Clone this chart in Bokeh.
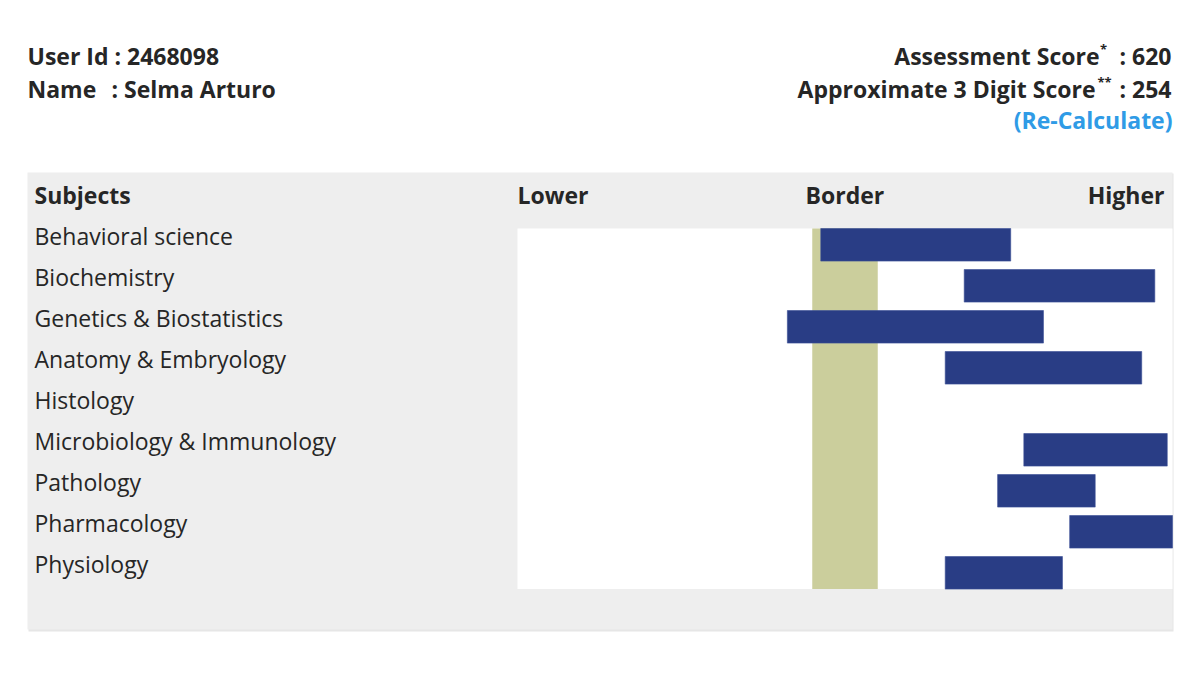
from bokeh.plotting import figure
from bokeh.models import Range1d, ColumnDataSource
from bokeh.core.properties import value
from bokeh.embed import file_html
from bokeh.resources import INLINE
import numpy as np

# ---- data ----
subjects = ["Behavioral science", "Biochemistry", "Genetics & Biostatistics",
            "Anatomy & Embryology", "Histology", "Microbiology & Immunology",
            "Pathology", "Pharmacology", "Physiology"]
bar_start = [46.3, 68.2, 41.2, 65.3, np.nan, 77.3, 73.3, 84.3, 65.3]
bar_end = [75.3, 97.3, 80.3, 95.3, np.nan, 99.2, 88.2, 100.0, 83.2]
border_low, border_high = 45.0, 55.0
scale_min, scale_max = 0.0, 100.0
column_headers = ["Subjects", "Lower", "Border", "Higher"]
user_id = "2468098"
user_name = "Selma Arturo"
assessment_score = 620
digit_score = 254

# ---- geometry helpers (pixel -> data) ----
W, H = 1200, 676
PX_L, PX_R = 517, 1172          # pixel span of the 0..100 scale
PPU = (PX_R - PX_L) / (scale_max - scale_min)
ROW_TOP, ROW_PITCH, BAR_H = 228, 41, 32.6
DY = -10  # text baseline correction

def X(px):
    return (px - PX_L) / PPU

def Y(py):
    return (py - ROW_TOP) / ROW_PITCH

p = figure(width=W, height=H, output_backend="svg", toolbar_location=None,
           x_axis_type=None, y_axis_type=None, min_border=0,
           x_range=Range1d(X(0), X(W)), y_range=Range1d(Y(H), Y(0)))
p.grid.visible = False
p.outline_line_color = None
p.background_fill_color = "white"
p.border_fill_color = "white"

FONT = value("Open Sans")
DARK = "#262626"
FS = "23px"

# gray panel (with faint shadow)
p.quad(left=[X(28)], right=[X(1173)], top=[Y(173)], bottom=[Y(631)],
       fill_color="#e6e6e6", line_color=None)
p.quad(left=[X(27)], right=[X(1172)], top=[Y(172)], bottom=[Y(629)],
       fill_color="#eeeeee", line_color=None)

n = len(subjects)
plot_bottom = (n - 1) + BAR_H / ROW_PITCH
# white plotting area
p.quad(left=[scale_min], right=[scale_max], top=[0], bottom=[plot_bottom],
       fill_color="white", line_color=None)
# border band
p.quad(left=[border_low], right=[border_high], top=[0], bottom=[plot_bottom],
       fill_color="#cbce9c", line_color=None)

# bars
rows = np.arange(n)
src = ColumnDataSource(dict(left=bar_start, right=bar_end, top=rows,
                            bottom=rows + BAR_H / ROW_PITCH))
p.quad(left="left", right="right", top="top", bottom="bottom", source=src,
       fill_color="#293d85", line_color="#3b4f95", line_width=0.6)

# subject labels
p.text(x=[X(34)] * n, y=list(rows + (245 + DY - 228) / ROW_PITCH), text=subjects,
       text_font=FONT, text_font_size=FS, text_color=DARK,
       text_baseline="alphabetic", text_align="left")

def btext(px, py, s, align="left", size=FS, color=DARK):
    p.text(x=[X(px)], y=[Y(py + DY)], text=[s], text_font=FONT, text_font_size=size,
           text_font_style="bold", text_color=color,
           text_baseline="alphabetic", text_align=align)

# column headers
btext(34, 204, column_headers[0])
btext(PX_L, 204, column_headers[1])
btext(805, 204, column_headers[2])
btext(1164, 204, column_headers[3], align="right")

# top-left info
btext(27, 65, f"User Id : {user_id}")
btext(27, 98, "Name")
btext(111, 98, f": {user_name}")

# top-right info
btext(1171, 65, f": {assessment_score}", align="right")
btext(1103, 58, "*", align="center", size="13px")
btext(1099, 65, "Assessment Score", align="right")
btext(1171, 98, f": {digit_score}", align="right")
btext(1097, 91, "**", align="left", size="13px")
btext(1095, 98, "Approximate 3 Digit Score", align="right")
btext(1172, 129, "(Re-Calculate)", align="right", color="#2f9be6")

open("out.html", "w").write(file_html(p, INLINE))
